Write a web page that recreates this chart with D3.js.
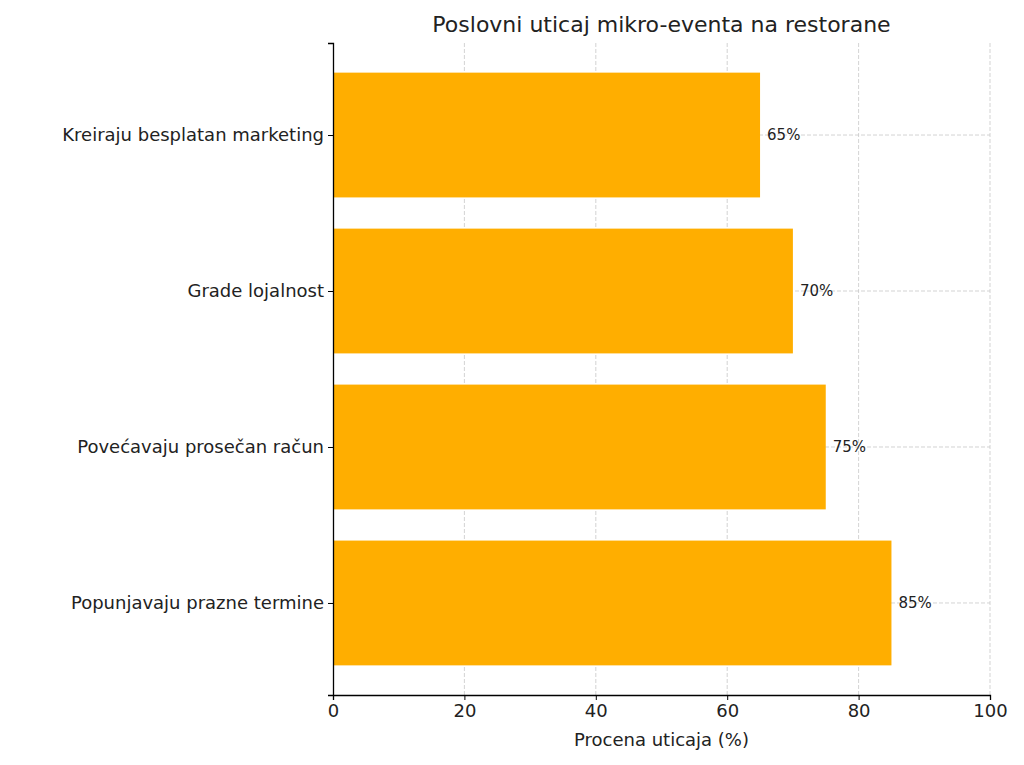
<!DOCTYPE html>
<html><head><meta charset="utf-8">
<script src="https://cdn.jsdelivr.net/npm/d3@7"></script>
<style>body{margin:0;background:#fff}text{font-family:"DejaVu Sans",sans-serif;fill:#222}</style>
</head><body><svg id="c" width="1024" height="765"></svg>
<script>
const categories = ["Popunjavaju prazne termine","Povećavaju prosečan račun","Grade lojalnost","Kreiraju besplatan marketing"];
const values = [85,75,70,65];
const xTicks = [0,20,40,60,80,100];

const svg = d3.select("#c");
const L=333,R=990,T=43,B=695;
const x = d3.scaleLinear().domain([0,100]).range([L,R]);
const y = d3.scaleLinear().domain([-0.59,3.59]).range([B,T]);
const unit = y(0)-y(1);

// grid
svg.append("g").selectAll("line").data(xTicks.slice(1)).join("line")
 .attr("x1",d=>x(d)).attr("x2",d=>x(d)).attr("y1",T).attr("y2",B)
 .attr("stroke","#c8c8c8").attr("stroke-dasharray","4,2").attr("stroke-width",0.8);
svg.append("g").selectAll("line").data(categories).join("line")
 .attr("x1",L).attr("x2",R).attr("y1",(d,i)=>y(i)).attr("y2",(d,i)=>y(i))
 .attr("stroke","#c8c8c8").attr("stroke-dasharray","4,2").attr("stroke-width",0.8);

// bars
svg.append("g").selectAll("rect").data(values).join("rect")
 .attr("x",x(0)).attr("y",(d,i)=>y(i)-0.4*unit).attr("height",0.8*unit)
 .attr("width",d=>x(d)-x(0)).attr("fill","#ffae00");
svg.append("g").selectAll("text").data(values).join("text")
 .attr("x",d=>x(d)+7).attr("y",(d,i)=>y(i)).attr("dy","0.35em")
 .attr("font-size",15).text(d=>d+"%");

// axes
const xa = svg.append("g").attr("transform",`translate(0,${B})`)
 .call(d3.axisBottom(x).tickValues(xTicks).tickSize(5).tickPadding(4));
xa.selectAll("text").attr("font-size",18);
const ya = svg.append("g").attr("transform",`translate(${L},0)`)
 .call(d3.axisLeft(y).tickValues([0,1,2,3]).tickFormat(i=>categories[i]).tickSize(5).tickPadding(4));
ya.selectAll("text").attr("font-size",18);
[xa,ya].forEach(a=>{a.select(".domain").attr("stroke","#000").attr("stroke-width",1.3);a.selectAll("line").attr("stroke","#000");a.selectAll("text").style("fill","#222")});

svg.append("text").attr("x",(L+R)/2).attr("y",746).attr("text-anchor","middle").attr("font-size",18).text("Procena uticaja (%)");
svg.append("text").attr("x",(L+R)/2).attr("y",32).attr("text-anchor","middle").attr("font-size",22).text("Poslovni uticaj mikro-eventa na restorane");
</script></body></html>
